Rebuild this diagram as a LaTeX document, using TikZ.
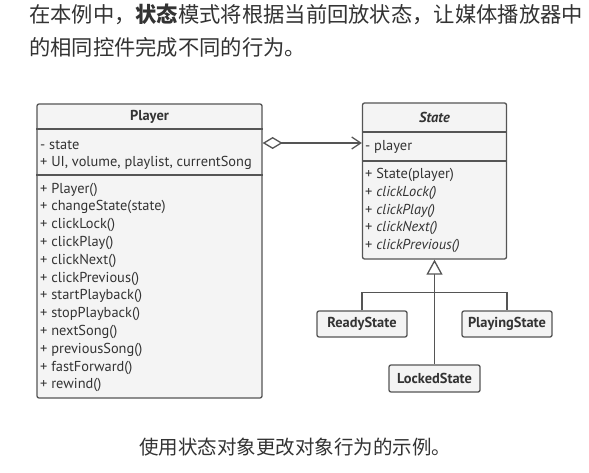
\documentclass[tikz,border=0pt]{standalone}
\usepackage{fontspec}
\setmainfont{PT Sans}
\newfontfamily\cjk{Noto Sans CJK SC}
\usetikzlibrary{arrows.meta}
\definecolor{bordc}{HTML}{555555}
\definecolor{boxf}{HTML}{F4F4F4}
\definecolor{txtc}{HTML}{333333}
\tikzset{
  umlbox/.style={draw=bordc, fill=boxf, rounded corners=2pt, line width=1.3pt, inner sep=0pt},
  divline/.style={draw=bordc, line width=1.3pt},
  conn/.style={draw=bordc, line width=1.3pt},
  mtxt/.style={anchor=west, inner sep=0pt, text=txtc, font=\fontsize{14.4}{16}\selectfont},
  ttl/.style={inner sep=0pt, text=txtc, font=\fontsize{14.4}{16}\selectfont\bfseries},
  smallbox/.style={umlbox, minimum width=90pt, minimum height=26pt, text=txtc, font=\fontsize{14.4}{16}\selectfont\bfseries},
  cjktxt/.style={anchor=west, inner sep=0pt, text=txtc, font=\cjk\fontsize{21.3}{25}\selectfont},
}
\begin{document}
\begin{tikzpicture}[x=1pt,y=-1pt]
\useasboundingbox[fill=white] (0,0) rectangle (589,473);
% intro text
\node[cjktxt] (intro1) at (29,14) {在本例中，{\bfseries 状态}模式将根据当前回放状态，让媒体播放器中};
\node[cjktxt] (intro2) at (29,47) {的相同控件完成不同的行为。};
% Player box
\node[umlbox, minimum width=225pt, minimum height=294pt] (player) at (149.5,251) {};
\draw[divline] (player.west |- 0,129) -- (player.east |- 0,129);
\draw[divline] (player.west |- 0,175) -- (player.east |- 0,175);
\node[ttl] (ptitle) at (149.5,117) {Player};
\node[mtxt] (pa1) at (40,145) {- state};
\node[mtxt] (pa2) at (40,162.5) {+ UI, volume, playlist, currentSong};
\foreach \t [count=\i from 0] in {+ Player(), + changeState(state), + clickLock(), + clickPlay(), + clickNext(), + clickPrevious(), + startPlayback(), + stopPlayback(), + nextSong(), + previousSong(), + fastForward(), + rewind()}
  \node[mtxt] (pm\i) at (40,{189.5+17.8*\i}) {\t};
% State box
\node[umlbox, minimum width=144pt, minimum height=156pt] (state) at (434.5,181) {};
\draw[divline] (state.west |- 0,132) -- (state.east |- 0,132);
\draw[divline] (state.west |- 0,161) -- (state.east |- 0,161);
\node[ttl, font=\fontsize{14.4}{16}\selectfont\bfseries\itshape] (stitle) at (434.5,117) {State};
\node[mtxt] (sa1) at (365,147) {- player};
\node[mtxt] (sm0) at (365,175) {+ State(player)};
\node[mtxt] (sm1) at (365,193) {+ \textit{clickLock()}};
\node[mtxt] (sm2) at (365,210.5) {+ \textit{clickPlay()}};
\node[mtxt] (sm3) at (365,228) {+ \textit{clickNext()}};
\node[mtxt] (sm4) at (365,246) {+ \textit{clickPrevious()}};
% aggregation
\coordinate (aggS) at (player.east |- 0,143);
\coordinate (aggE) at (state.west |- 0,143);
\draw[conn, {Diamond[open, length=20pt, width=12pt, line width=1.3pt]}-{Straight Barb[length=9pt, width=12pt, line width=1.3pt]}] (aggS) -- (aggE);
% subclasses
\node[smallbox] (ready) at (362,324) {ReadyState};
\node[smallbox] (playing) at (507,324) {PlayingState};
\node[smallbox, minimum width=91pt, minimum height=27pt] (locked) at (434.5,378.5) {LockedState};
\coordinate (junc) at (434.5,292.5);
\draw[conn] (ready.north) |- (junc) -| (playing.north);
\draw[conn, -{Triangle[open, length=15pt, width=16pt, line width=1.3pt, fill=white]}] (locked.north) -- (state.south);
% caption
\node[inner sep=0pt, text=txtc, font=\cjk\fontsize{19.5}{22}\selectfont] (caption) at (295,447) {使用状态对象更改对象行为的示例。};
\end{tikzpicture}
\end{document}
